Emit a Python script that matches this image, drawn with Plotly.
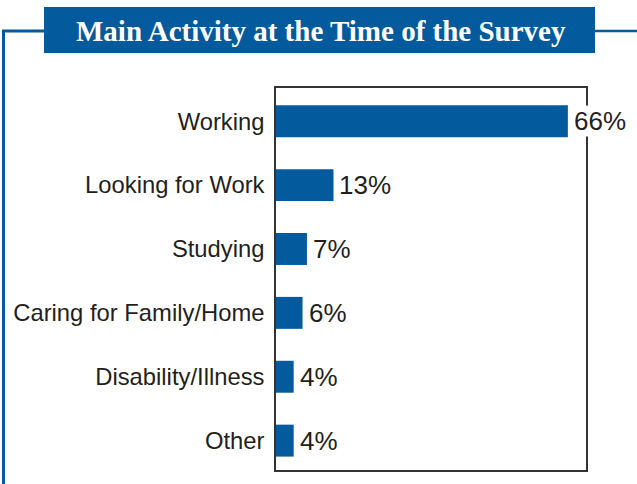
import plotly.graph_objects as go

categories = ["Working", "Looking for Work", "Studying", "Caring for Family/Home", "Disability/Illness", "Other"]
values = [66, 13, 7, 6, 4, 4]
value_labels = ["66%", "13%", "7%", "6%", "4%", "4%"]
title_text = "Main Activity at the Time of the Survey"

BLUE = "#035a9c"
TXT = "#231f20"
W, H = 637, 484
L, R, T, B = 276, 586, 88, 470

def px(x):
    return (x - L) / (R - L)

def py(y):
    return (B - y) / (B - T)

fig = go.Figure(go.Bar(
    x=values, y=categories, orientation="h",
    marker=dict(color=BLUE, line=dict(width=0)),
    width=0.5,
))

annotations = [
    dict(text="<b>" + title_text + "</b>", xref="paper", yref="paper",
         x=px(321), y=py(31), xanchor="center", yanchor="middle", showarrow=False,
         font=dict(family="Liberation Serif, Times New Roman", size=29, color="white")),
]
for cat, v, lab in zip(categories, values, value_labels):
    annotations.append(dict(
        x=v, y=cat, xref="x", yref="y", text=lab, showarrow=False,
        xanchor="left", yanchor="middle", xshift=5, bgcolor="white", borderpad=0,
        font=dict(family="Liberation Sans, Arial", size=26, color=TXT)))

fig.update_layout(
    width=W, height=H,
    margin=dict(l=L, r=W - R, t=T, b=H - B, pad=0),
    paper_bgcolor="white", plot_bgcolor="white",
    showlegend=False,
    xaxis=dict(range=[0, 70.1], showgrid=False, zeroline=False, showticklabels=False,
               showline=True, linecolor="#333333", linewidth=1.5, mirror=True, ticks="",
               automargin=False),
    yaxis=dict(range=[5.46, -0.52], showgrid=False, zeroline=False,
               showline=True, linecolor="#333333", linewidth=1.5, mirror=True,
               ticks="", ticklabelstandoff=5, automargin=False,
               tickfont=dict(family="Liberation Sans, Arial", size=23.8, color=TXT)),
    shapes=[
        dict(type="line", xref="paper", yref="paper", x0=px(3.5), x1=px(3.5), y0=py(31), y1=py(486),
             line=dict(color=BLUE, width=3)),
        dict(type="line", xref="paper", yref="paper", x0=px(2), x1=px(45), y0=py(31), y1=py(31),
             line=dict(color=BLUE, width=3)),
        dict(type="line", xref="paper", yref="paper", x0=px(594), x1=px(640), y0=py(31), y1=py(31),
             line=dict(color=BLUE, width=2.5)),
        dict(type="rect", xref="paper", yref="paper", x0=px(44), x1=px(595), y0=py(7), y1=py(53),
             fillcolor=BLUE, line=dict(width=0)),
    ],
    annotations=annotations,
)

fig.write_html("out.html", config={"displayModeBar": False},
               post_script="document.body.style.margin='0px';document.body.style.overflow='hidden';")
